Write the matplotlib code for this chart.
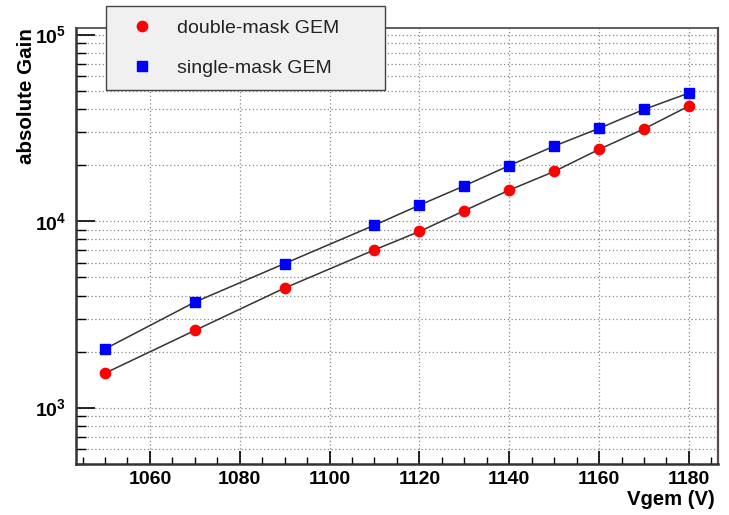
import numpy as np
import matplotlib
matplotlib.use("Agg")
import matplotlib.pyplot as plt
from matplotlib.ticker import LogLocator, FixedLocator, MultipleLocator, NullFormatter, FuncFormatter

plt.rcParams['font.family'] = ['Liberation Sans', 'DejaVu Sans']
plt.rcParams['mathtext.fontset'] = 'custom'
plt.rcParams['mathtext.rm'] = 'Liberation Sans:bold'
plt.rcParams['mathtext.bf'] = 'Liberation Sans:bold'

# data
vgem = [1050, 1070, 1090, 1110, 1120, 1130, 1140, 1150, 1160, 1170, 1180]
gain_double = [1535, 2600, 4390, 7030, 8820, 11400, 14700, 18500, 24300, 31300, 41500]
gain_single = [2070, 3690, 5940, 9540, 12200, 15500, 19900, 25300, 31500, 39800, 48700]

label_double = "double-mask GEM"
label_single = "single-mask GEM"
xlabel = "Vgem (V)"
ylabel = "absolute Gain"

fig = plt.figure(figsize=(7.29, 5.15), dpi=100)
ax = fig.add_axes([0.104, 0.099, 0.881, 0.847])

ax.plot(vgem, gain_double, '-', color='#333333', lw=1.1, zorder=2)
ax.plot(vgem, gain_single, '-', color='#333333', lw=1.1, zorder=2)
h1, = ax.plot(vgem, gain_double, 'o', color='red', ms=7.4, mec='red', ls='none', zorder=3)
h2, = ax.plot(vgem, gain_single, 's', color='blue', ms=6.8, mec='blue', ls='none', zorder=3)

ax.set_yscale('log')
ax.set_xlim(1043.5, 1186.5)
ax.set_ylim(500, 1.09e5)

ax.xaxis.set_major_locator(MultipleLocator(20))
ax.xaxis.set_minor_locator(MultipleLocator(5))
ax.yaxis.set_major_locator(FixedLocator([1e3, 1e4, 1e5]))
ax.yaxis.set_minor_locator(LogLocator(base=10, subs=np.arange(2, 10)))
ax.yaxis.set_minor_formatter(NullFormatter())
ax.yaxis.set_major_formatter(FuncFormatter(lambda v, p: r'$10^{%d}$' % round(np.log10(v))))

ax.tick_params(axis='both', which='both', direction='in', top=False, right=False)
ax.tick_params(axis='x', which='major', length=9.4, width=1.2, labelsize=14, pad=5)
ax.tick_params(axis='x', which='minor', length=4.8, width=1.0)
ax.tick_params(axis='y', which='major', length=13.7, width=1.2, labelsize=14, pad=7)
ax.tick_params(axis='y', which='minor', length=7.2, width=1.0)
for t in ax.get_xticklabels():
    t.set_fontweight('bold')

ax.grid(True, axis='x', which='major', ls=(0, (1, 2)), color='#888888', lw=0.9)
ax.grid(True, axis='y', which='both', ls=(0, (1, 2)), color='#888888', lw=0.9)
ax.set_axisbelow(True)

ax.spines['left'].set_linewidth(1.8)
ax.spines['left'].set_color('#333333')
ax.spines['bottom'].set_linewidth(1.8)
ax.spines['bottom'].set_color('#333333')
ax.spines['top'].set_color('#444444')
ax.spines['right'].set_color('#5a4a4a')
ax.spines['top'].set_linewidth(1.2)
ax.spines['right'].set_linewidth(1.6)

fig.text(0.981, 0.0194, xlabel, ha='right', va='baseline', fontsize=14.6, fontweight='bold')
fig.text(0.036, 0.946, ylabel, ha='center', va='top', rotation=90, fontsize=14.8, fontweight='bold')

leg = fig.legend([h1, h2], [label_double, label_single], loc='upper left',
                 bbox_to_anchor=(0.1454, 0.989, 0.3827, 0.0), mode='expand',
                 fontsize=14, frameon=True, fancybox=False, framealpha=1,
                 borderpad=0.7, labelspacing=1.14, handletextpad=0.66,
                 handlelength=2.3, borderaxespad=0)
leg.get_frame().set_facecolor('#f0f0f0')
leg.get_frame().set_edgecolor('#444444')
leg.get_frame().set_linewidth(1.0)
for t in leg.get_texts():
    t.set_color('#222222')

fig.savefig('out.png', dpi=100)
